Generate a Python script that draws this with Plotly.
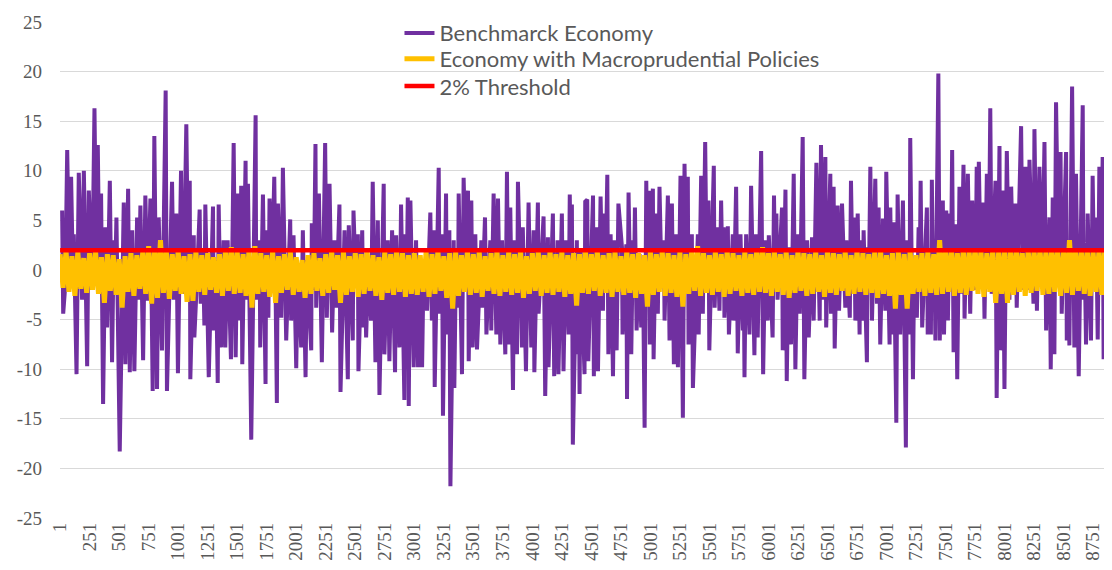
import plotly.graph_objects as go

# Benchmark economy: period number and value (spikes and troughs)
bench_period = [
    18, 27, 45, 61, 78, 94, 110, 117, 140, 159, 187, 202, 230, 244, 272, 292, 306, 320, 334, 348,
    365, 385, 399, 422, 441, 455, 466, 478, 506, 540, 554, 577, 591, 611, 630, 653, 667, 681, 704, 723,
    743, 766, 785, 799, 822, 836, 864, 895, 906, 930, 949, 963, 985, 999, 1025, 1034, 1052, 1070, 1085, 1099,
    1104, 1133, 1138, 1160, 1183, 1192, 1210, 1223, 1231, 1260, 1296, 1302, 1320, 1336, 1344, 1365, 1386, 1400, 1420, 1448,
    1471,
    1488, 1507, 1521, 1535, 1544, 1572, 1578, 1592, 1620, 1657, 1662, 1691, 1696, 1719, 1741, 1747, 1765, 1775, 1795, 1815,
    1837, 1846, 1874, 1888, 1916, 1950, 1958, 1978, 2001, 2015, 2043, 2057, 2080, 2091, 2128, 2133, 2150, 2164, 2170, 2193,
    2218, 2246, 2260, 2283, 2305, 2325, 2339, 2367, 2376, 2410, 2438, 2446, 2480, 2486, 2505, 2523, 2528, 2560, 2570, 2582,
    2593, 2612, 2635, 2649, 2672, 2692, 2706, 2742, 2748, 2776, 2790, 2813, 2838, 2847, 2875, 2889, 2917, 2925, 2936, 2946,
    2954,
    2968, 2996, 3016, 3033, 3050, 3067, 3080, 3109, 3137, 3150, 3166, 3174, 3208, 3215, 3236, 3244, 3270, 3278, 3298, 3307,
    3335, 3340, 3355, 3371, 3377, 3405, 3419, 3437, 3456, 3462, 3484, 3495, 3518, 3532, 3569, 3575, 3600, 3612, 3645, 3653,
    3673, 3696, 3710, 3730, 3744, 3772, 3786, 3800, 3814, 3837, 3848, 3871, 3879, 3913, 3920, 3947, 3969, 3992, 4012, 4018,
    4048, 4054, 4096, 4110, 4133, 4138, 4175, 4186, 4215, 4222, 4251, 4265, 4285, 4308, 4318, 4327, 4336, 4344, 4378, 4382,
    4395, 4401, 4410, 4443, 4449,
    4466, 4475, 4515, 4522, 4543, 4557, 4579, 4599, 4608, 4622, 4636, 4645, 4664, 4684, 4698, 4715, 4730, 4760, 4765, 4797,
    4803, 4816, 4839, 4853, 4862, 4870, 4884, 4909, 4923, 4937, 4952, 4966, 4977, 4988, 4996, 5022, 5028, 5050, 5064, 5078,
    5095, 5115, 5121, 5149, 5163, 5183, 5200, 5220, 5234, 5256, 5276, 5290, 5304, 5318, 5324, 5352, 5361, 5403, 5410, 5431,
    5445, 5465, 5478, 5493, 5500, 5538, 5545, 5566, 5586, 5600, 5612, 5622, 5628, 5657, 5666, 5699, 5705, 5727, 5741, 5764,
    5784, 5791, 5798, 5812, 5840, 5854, 5882, 5896, 5910, 5939,
    5956, 5975, 5995, 6004, 6036, 6048, 6058, 6068, 6078, 6116, 6122, 6145, 6156, 6173, 6192, 6215, 6229, 6249, 6266, 6291,
    6305, 6328, 6342, 6370, 6384, 6407, 6435, 6446, 6466, 6483, 6490, 6525, 6531, 6553, 6562, 6587, 6599, 6624, 6652, 6661,
    6690, 6700, 6714, 6728, 6737, 6757, 6773, 6779, 6800, 6807, 6835, 6841, 6852, 6864, 6878, 6906, 6920, 6934, 6948, 6971,
    6991, 6999, 7027, 7033, 7047, 7061, 7084, 7095, 7117, 7140, 7165, 7174, 7196, 7202, 7225, 7236, 7258, 7273, 7282, 7290,
    7303, 7343, 7350, 7365, 7377, 7385, 7395, 7405, 7415, 7440,
    7452, 7478, 7488, 7507, 7521, 7535, 7546, 7557, 7569, 7586, 7600, 7619, 7634, 7653, 7662, 7690, 7710, 7727, 7755, 7765,
    7774, 7783, 7800, 7817, 7831, 7851, 7866, 7880, 7892, 7924, 7934, 7958, 7964, 7986, 8000, 8020, 8042, 8057, 8075, 8093,
    8104, 8141, 8155, 8178, 8198, 8212, 8246, 8254, 8275, 8296, 8320, 8339, 8353, 8381, 8392, 8409, 8423, 8437, 8460, 8475,
    8485, 8522, 8528, 8540, 8550, 8573, 8592, 8606, 8629, 8663, 8670, 8680, 8691, 8705, 8733, 8747, 8760, 8776, 8790, 8804,
    8818, 8832, 8840, 8860, 8874, 8894, 8903, 8917,
]
bench_value = [
    6.0, -4.4, -1.5, 12.1, 0.5, 9.4, -1.0, 3.6, -10.5, 9.8, -3.0, 10.0, -9.7, 8.0, -2.0, 16.3, 2.0, 12.6, -1.0, 7.7,
    -13.5, 4.3, -5.8, 9.0, -9.3, 3.0, -1.5, 5.3, -18.3, 6.8, -9.5, 8.2, -10.3, 4.0, -10.2, 5.3, -3.0, 6.5, -9.1, 7.5,
    -3.1, 7.2, -12.2, 13.5, -12.0, 5.3, -8.1, 18.1, -12.2, 2.0, 8.9, -3.0, 5.7, -10.4, 10.0, -2.4, 2.0, 14.7, 0.0, 9.0,
    -11.0, 3.5, -6.8, -1.0, 6.1, -3.4, 2.0, -5.6, 6.6, -10.8, 6.4, -6.1, 1.0, -11.4, 6.6, -7.8, 3.0, -7.8, 3.0, -9.0,
    12.8,
    -8.8, 7.7, -5.1, 8.5, -9.5, 11.0, -3.0, 8.7, -17.1, 15.6, -3.0, 3.0, -7.8, 7.6, -11.5, 4.0, -4.8, 7.2, -1.0, 9.4,
    -13.4, 6.7, -4.8, 10.3, -7.1, 5.1, -5.1, 3.5, -9.9, 0.6, -7.8, 4.0, -10.8, 1.0, -8.1, 4.7, -2.0, 12.7, -3.8, 7.7,
    -9.3, 12.8, -4.8, 8.7, -6.3, 3.0, -3.8, 6.6, -12.3, 4.0, -11.0, 4.5, -7.1, 6.0, -1.0, 3.6, -10.2, 4.0, -5.8, 0.6,
    -6.8, 0.5, -5.1, 8.9, -9.3, 5.0, -12.6, 8.7, -8.5, 3.0, -9.2, 4.0, -10.3, 3.5, -7.8, 6.6, -13.1, 3.6, -2.0, 7.3,
    -13.7,
    7.0, -9.8, 3.0, -9.8, 1.0, -9.8, 0.5, -4.1, 5.8, -5.1, 4.0, -11.8, 10.3, -4.4, 3.6, -14.7, 7.7, -6.5, 4.0, -21.8,
    3.0, -11.9, 2.0, -3.8, 7.7, -10.5, 9.3, 0.0, 8.0, -9.2, 7.0, -7.8, 3.6, -8.0, 3.0, -3.8, 5.3, -6.5, 3.0, -6.1,
    7.7, -6.5, 7.2, -7.5, 3.0, -8.5, 9.9, -7.5, 6.3, -12.1, 3.0, -8.5, 8.9, -7.8, 4.3, -10.2, 6.8, -7.8, 4.0, -10.3,
    6.8, -4.4, 5.4, -12.7, 3.3, -9.8, 5.7, -10.7, 3.0, -10.5, 5.7, -10.2, 3.0, -6.5, 7.6, -1.0, 6.6, -17.6, 3.0, -8.5,
    1.0, -12.5, 2.0, -10.5, 6.9,
    7.1, -9.2, 7.5, -10.7, 4.3, -10.2, 7.4, -4.1, 5.7, 0.0, 9.6, -8.5, 3.6, -10.7, 3.0, -8.1, 6.7, 2.3, -6.5, 2.6,
    -13.0, 7.8, -8.5, 3.0, -1.0, 6.3, -6.1, 1.6, -5.8, 1.0, -15.9, 9.0, -2.0, 8.0, -7.5, 8.2, -9.0, 5.7, -4.4, 8.4,
    -1.0, 3.0, -5.1, 7.5, -7.1, 6.7, -9.5, 3.6, -9.8, 9.5, -14.9, 10.7, -1.0, 9.4, -7.5, 3.6, -11.9, 3.6, -6.5, 9.5,
    -4.4, 12.9, -1.0, 7.0, -8.1, 10.5, -3.8, 4.3, -4.1, 7.0, -1.0, 4.3, -4.8, 4.4, -6.5, 3.6, -5.1, 8.4, -8.4, 3.6,
    -6.1, 1.0, -10.8, 3.6, -6.5, 8.5, -8.6, 3.6, -6.8, 12.0,
    -10.5, 3.0, -5.1, 3.5, -6.8, 7.5, -1.0, 5.7, -3.0, 6.3, -8.1, 8.1, -11.2, 2.3, -7.5, 9.7, -10.0, 3.6, -4.4, 13.4,
    -11.0, 3.0, -6.8, 3.3, -5.1, 10.8, -5.1, 12.6, -3.0, 11.4, -5.8, 9.7, -4.4, 8.4, -7.9, 6.5, -4.1, 6.7, -3.8, 3.0,
    -4.8, 9.0, -1.0, 5.3, -5.1, 5.7, -6.5, 3.0, -5.1, 4.0, -9.3, 2.3, -1.0, 10.4, -5.1, 9.2, -3.4, 6.3, -7.5, 5.2,
    -4.1, 9.9, -7.5, 6.3, -6.5, 4.8, -15.4, 7.6, -6.5, 7.0, -17.9, 3.0, -6.5, 13.3, -11.0, 0.8, -4.8, 4.3, -1.0, 9.0,
    -5.8, 6.3, -6.5, 2.0, -6.5, 9.1, -2.0, 3.0, -7.1, 19.8,
    -7.1, 7.0, -6.5, 6.0, -5.1, 5.7, -1.0, 12.1, -8.3, 4.6, -11.0, 8.4, -2.4, 10.6, -4.9, 9.7, -4.4, 7.0, -2.0, 10.4,
    0.0, 10.9, -1.0, 6.8, -4.9, 9.7, -1.0, 16.3, -2.4, 9.0, -12.9, 12.5, -8.1, 8.0, -12.0, 12.0, -3.0, 8.4, -1.0, 6.7,
    -3.8, 14.5, -2.0, 10.4, -2.0, 11.1, -3.4, 14.2, -4.1, 10.4, -1.0, 12.9, -6.1, 5.3, -10.0, 7.3, -8.5, 16.9, -1.0, 11.9,
    -4.4, 11.9, -7.1, 1.0, -7.6, 18.5, -7.8, 9.7, -10.7, 16.6, -3.0, 1.0, -7.5, 5.7, -7.1, 9.5, -1.0, 5.3, -7.0, 10.4,
    -1.0, 11.4, -9.0, 5.0, -6.5, 13.7, -2.0, 13.0,
]

# Economy with macroprudential policies: upper and lower swing per block of 50 periods
macro_block = 50
macro_high = [
    1.6, 1.9, 1.4, 1.8, 1.2, 1.7, 1.9, 1.3, 1.6, 1.5, 1.1, 1.4, 1.7, 1.5, 1.8, 2.4, 1.9, 3.0, 1.8, 1.6,
    1.9, 1.4, 1.6, 1.8, 1.5, 1.7, 1.3, 1.6, 1.8, 2.3,
    1.8, 1.6, 2.0, 2.4, 1.7, 1.5, 1.9, 1.4, 1.6, 1.8, 1.3, 1.0, 1.5, 1.7, 1.2, 1.6, 1.9, 1.5, 1.8, 1.4,
    1.7, 1.6, 1.9, 1.5, 1.3, 1.8, 1.6, 1.9, 1.7, 1.5,
    1.7, 1.5, 1.8, 1.6, 1.9, 1.4, 1.7, 1.8, 1.5, 1.9, 1.6, 1.8, 1.4, 1.7, 1.9, 1.5, 1.8, 1.6, 1.9, 1.4,
    1.7, 1.8, 1.5, 1.9, 1.6, 1.8, 1.5, 1.7, 1.6,
    1.8, 1.6, 1.9, 1.5, 1.7, 1.8, 1.4, 1.9, 1.6, 1.7, 1.5, 1.8, 1.6, 1.9, 1.7, 1.5, 1.8, 1.6, 1.9, 2.4,
    1.7, 1.5, 1.8, 1.6, 1.9, 1.7, 1.5, 1.8, 1.6, 1.9,
    2.3, 1.7, 1.9, 1.6, 1.8, 1.5, 1.9, 1.7, 1.6, 1.8, 1.5, 1.9, 1.7, 1.6, 1.8, 1.5, 1.9, 1.7, 1.6, 1.8,
    1.9, 1.5, 1.7, 1.8, 1.6, 1.9, 1.5, 1.7, 1.8, 1.6,
    3.0, 1.9, 2.1, 1.7, 2.0, 1.8, 2.2, 1.9, 1.7, 2.0, 1.8, 2.1, 1.9, 2.2, 1.7, 2.0, 1.9, 2.1, 1.8, 2.2,
    2.0, 1.8, 3.0, 2.0, 1.9, 2.1, 1.8, 2.0, 2.2, 1.9,
]
macro_low = [
    -1.8, -2.2, -2.6, -1.9, -2.3, -2.0, -2.4, -3.3, -2.1, -2.5, -3.8, -2.2, -2.6, -1.9, -2.4, -3.4, -2.8, -2.3, -2.9, -2.1,
    -2.4, -3.2, -3.1, -2.2, -2.5, -2.0, -2.3, -2.6, -2.1, -2.4,
    -2.3, -2.6, -3.8, -2.4, -2.2, -2.7, -3.3, -2.3, -2.0, -2.5, -2.2, -2.8, -2.4, -2.1, -2.6, -2.3, -2.0, -3.3, -2.5, -2.2,
    -2.7, -2.4, -2.1, -2.6, -3.0, -2.3, -2.5, -2.2, -2.7, -2.4,
    -2.5, -2.2, -2.7, -2.4, -2.1, -2.8, -3.9, -2.6, -2.2, -2.5, -2.3, -2.7, -2.1, -2.4, -2.6, -2.2, -2.5, -2.3, -2.8, -2.4,
    -2.1, -2.6, -2.3, -2.5, -2.2, -2.7, -2.4, -3.6, -2.3,
    -2.4, -2.1, -2.6, -2.3, -2.7, -2.2, -2.5, -2.3, -2.8, -2.4, -3.7, -2.5, -2.2, -2.6, -2.3, -2.7, -3.7, -2.4, -2.1, -2.6,
    -2.3, -2.5, -2.2, -2.7, -2.4, -2.1, -2.6, -2.3, -2.5, -2.2,
    -2.3, -2.6, -2.2, -2.5, -2.8, -2.3, -2.1, -2.6, -2.4, -2.2, -2.7, -2.3, -2.5, -2.1, -2.6, -2.4, -2.2, -2.5, -2.3, -2.8,
    -2.4, -2.6, -3.9, -2.5, -3.9, -2.4, -2.2, -2.6, -2.3, -2.5,
    -2.4, -2.2, -2.6, -2.3, -2.5, -2.1, -2.4, -2.7, -2.2, -3.3, -2.4, -3.3, -2.5, -2.2, -2.6, -2.3, -2.1, -2.5, -2.4, -2.2,
    -2.6, -2.3, -2.5, -2.1, -2.4, -2.6, -2.2, -2.5, -2.3, -2.4,
]

threshold = 2.0
period_first = 1
period_last = 8920

x_tick_labels = [
    "1", "251", "501", "751", "1001", "1251", "1501", "1751", "2001", "2251", "2501", "2751",
    "3001", "3251", "3501", "3751", "4001", "4251", "4501", "4751", "5001", "5251", "5501",
    "5751", "6001", "6251", "6501", "6751", "7001", "7251", "7501", "7751", "8001", "8251",
    "8501", "8751",
]
y_tick_values = [-25, -20, -15, -10, -5, 0, 5, 10, 15, 20, 25]
y_tick_labels = ["-25", "-20", "-15", "-10", "-5", "0", "5", "10", "15", "20", "25"]

# zig-zag the macro band: high at block start, low half a block later
macro_x, macro_y = [], []
for i, (hi, lo) in enumerate(zip(macro_high, macro_low)):
    macro_x += [1 + i * macro_block, 1 + i * macro_block + macro_block // 2]
    macro_y += [hi, lo]

grey = "#595959"
serif = "Times New Roman, Liberation Serif, serif"

fig = go.Figure()
fig.add_trace(go.Scatter(
    x=bench_period, y=bench_value, mode="lines", name="Benchmarck Economy",
    line=dict(color="#7030A0", width=4), legend="legend",
))
fig.add_trace(go.Scatter(
    x=macro_x, y=macro_y, mode="lines", name="Economy with Macroprudential Policies",
    line=dict(color="#FFC000", width=5), legend="legend2",
))
fig.add_trace(go.Scatter(
    x=[period_first, period_last], y=[threshold, threshold], mode="lines", name="2% Threshold",
    line=dict(color="#FF0000", width=4.5), legend="legend3",
))

legend_style = dict(
    x=0.3227, xanchor="left", yanchor="top",
    bgcolor="rgba(0,0,0,0)",
    font=dict(family="Lato", size=22, color=grey),
)
# the page body has an 8px margin, so the figure is 8px smaller than the window
fig.update_layout(
    width=1104, height=562,
    margin=dict(l=52, r=0, t=14, b=52, autoexpand=False),
    plot_bgcolor="white", paper_bgcolor="white",
    showlegend=True,
    legend=dict(legend_style, y=1.020),
    legend2=dict(legend_style, y=0.968),
    legend3=dict(legend_style, y=0.913),
)
fig.update_xaxes(
    range=[0, 8911],
    tickmode="array",
    tickvals=[int(t) for t in x_tick_labels],
    ticktext=x_tick_labels,
    tickangle=-90,
    tickfont=dict(family=serif, size=19, color=grey),
    showgrid=False, zeroline=False, showline=False,
    ticks="", automargin=False,
)
fig.update_yaxes(
    range=[-25, 25],
    tickmode="array",
    tickvals=y_tick_values,
    ticktext=y_tick_labels,
    tickfont=dict(family=serif, size=19, color=grey),
    showgrid=True, gridcolor="#D9D9D9", gridwidth=1,
    zeroline=False, showline=False, ticks="",
    ticklabelstandoff=17, automargin=False,
)

fig.write_html("out.html")
